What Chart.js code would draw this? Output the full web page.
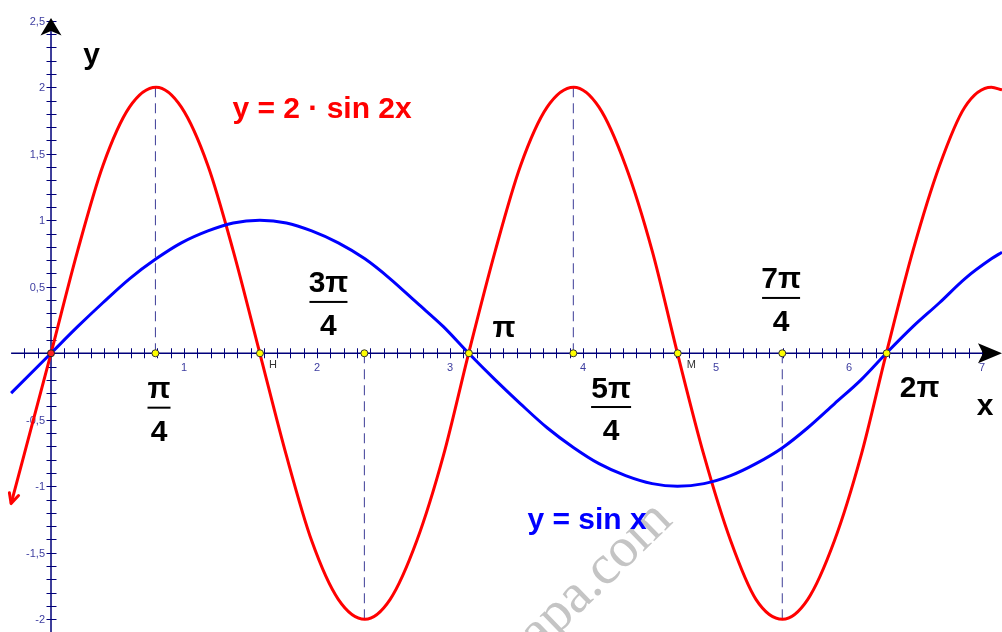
<!DOCTYPE html>
<html>
<head>
<meta charset="utf-8">
<script src="https://cdn.jsdelivr.net/npm/chart.js@4/dist/chart.umd.min.js"></script>
<style>
html, body { margin: 0; padding: 0; background: #fff; }
#graph { display: block; }
</style>
</head>
<body>
<canvas id="graph" width="1002" height="632"></canvas>
<script>
// curve samples (x in steps of about pi/16)
var xs = [-0.30, 0, 0.20, 0.39, 0.59, 0.79, 0.98, 1.18, 1.37, 1.57, 1.77, 1.96, 2.16, 2.36, 2.55, 2.75, 2.95,
          3.14, 3.34, 3.53, 3.73, 3.93, 4.12, 4.32, 4.52, 4.71, 4.91, 5.11, 5.30, 5.50, 5.69, 5.89, 6.09,
          6.28, 6.48, 6.68, 6.87, 7.07, 7.15];
var sinX = [-0.30, 0, 0.20, 0.38, 0.56, 0.71, 0.83, 0.92, 0.98, 1, 0.98, 0.92, 0.83, 0.71, 0.56, 0.38, 0.20,
            0, -0.20, -0.38, -0.56, -0.71, -0.83, -0.92, -0.98, -1, -0.98, -0.92, -0.83, -0.71, -0.56, -0.38, -0.20,
            0, 0.20, 0.38, 0.56, 0.71, 0.76];
var twoSin2X = [-1.13, 0, 0.77, 1.41, 1.85, 2, 1.85, 1.41, 0.77, 0, -0.77, -1.41, -1.85, -2, -1.85, -1.41, -0.77,
                0, 0.77, 1.41, 1.85, 2, 1.85, 1.41, 0.77, 0, -0.77, -1.41, -1.85, -2, -1.85, -1.41, -0.77,
                0, 0.77, 1.41, 1.85, 2, 1.98];

// marked points on the x axis and the dashed helper lines
var markX     = [0.785, 1.571, 2.356, 3.142, 3.927, 4.712, 5.498, 6.283];
var markNames = ['', 'H', '', '', '', 'M', '', ''];
var dashX     = [0.785, 2.356, 3.927, 5.498];
var dashY     = [2, -2, 2, -2];

// tick labels
var xTicks      = [1, 2, 3, 4, 5, 6, 7];
var xTickLabels = ['1', '2', '3', '4', '5', '6', '7'];
var yTicks      = [-2, -1.5, -1, -0.5, 0.5, 1, 1.5, 2, 2.5];
var yTickLabels = ['-2', '-1,5', '-1', '-0,5', '0,5', '1', '1,5', '2', '2,5'];

var AXIS = '#00007a';
var TICKTEXT = '#3d3da0';
var BIG = 'bold 30px "Liberation Sans", Arial, sans-serif';

//build datasets
var datasets = [];
datasets.push({
    data: [{x: 0, y: 0}],
    pointRadius: 3.5, pointBackgroundColor: '#ff2020', pointBorderColor: '#222',
    pointBorderWidth: 1, showLine: false
});
datasets.push({
    data: markX.map(function(x){ return {x: x, y: 0}; }),
    pointRadius: 3.5, pointBackgroundColor: '#ffff00', pointBorderColor: '#333',
    pointBorderWidth: 1, showLine: false
});
datasets.push({
    data: xs.map(function(x, i){ return {x: x, y: sinX[i]}; }),
    borderColor: '#0000ff', borderWidth: 3, pointRadius: 0,
    cubicInterpolationMode: 'monotone', fill: false
});
datasets.push({
    data: xs.map(function(x, i){ return {x: x, y: twoSin2X[i]}; }),
    borderColor: '#ff0000', borderWidth: 3, pointRadius: 0,
    cubicInterpolationMode: 'monotone', fill: false
});
for (var i = 0; i < dashX.length; i++) {
    datasets.push({
        data: [{x: dashX[i], y: 0}, {x: dashX[i], y: dashY[i]}],
        borderColor: '#3c3c96', borderWidth: 1, borderDash: [10, 6],
        pointRadius: 0, fill: false
    });
}

//axes, arrows and watermark under the curves
var axesPlugin = {
    id: 'axesPlugin',
    beforeDatasetsDraw: function(chart) {
        var ctx = chart.ctx, sx = chart.scales.x, sy = chart.scales.y;
        var ox = sx.getPixelForValue(0), oy = sy.getPixelForValue(0);
        ctx.save();

        // watermark
        ctx.save();
        ctx.translate(674, 522);
        ctx.rotate(-44 * Math.PI / 180);
        ctx.font = '56px "Liberation Serif", "Times New Roman", serif';
        ctx.fillStyle = '#c4c4c4';
        ctx.textAlign = 'right';
        ctx.fillText('kapa.com', 0, 0);
        ctx.restore();

        // axis lines
        ctx.strokeStyle = AXIS;
        ctx.lineWidth = 1.5;
        ctx.beginPath();
        ctx.moveTo(sx.getPixelForValue(-0.30), oy);
        ctx.lineTo(sx.right - 6, oy);
        ctx.moveTo(ox, sy.bottom);
        ctx.lineTo(ox, sy.getPixelForValue(2.5));
        ctx.stroke();

        // minor ticks every 0.1
        ctx.lineWidth = 1;
        ctx.beginPath();
        for (var k = -2; k <= 70; k++) {
            if (k === 0) continue;
            var px = Math.round(sx.getPixelForValue(k / 10)) + 0.5;
            ctx.moveTo(px, oy - 5);
            ctx.lineTo(px, oy + 5);
        }
        for (var k = -20; k <= 25; k++) {
            if (k === 0) continue;
            var py = Math.round(sy.getPixelForValue(k / 10)) + 0.5;
            ctx.moveTo(ox - 4.5, py);
            ctx.lineTo(ox + 5.5, py);
        }
        ctx.stroke();

        // tick labels
        ctx.font = '11px "Liberation Sans", Arial, sans-serif';
        ctx.fillStyle = TICKTEXT;
        ctx.textAlign = 'center';
        ctx.textBaseline = 'alphabetic';
        for (var i = 0; i < xTicks.length; i++) {
            ctx.fillText(xTickLabels[i], sx.getPixelForValue(xTicks[i]), oy + 18);
        }
        ctx.textAlign = 'right';
        ctx.textBaseline = 'middle';
        for (var i = 0; i < yTicks.length; i++) {
            ctx.fillText(yTickLabels[i], ox - 6, sy.getPixelForValue(yTicks[i]) + 1);
        }

        // arrow heads of the axes
        var ty = sy.getPixelForValue(2.52);
        ctx.fillStyle = '#000';
        ctx.beginPath();
        ctx.moveTo(ox, ty);
        ctx.lineTo(ox + 10.5, ty + 17.5);
        ctx.lineTo(ox, ty + 13);
        ctx.lineTo(ox - 10.5, ty + 17.5);
        ctx.closePath();
        ctx.fill();
        var tx = sx.right;
        ctx.beginPath();
        ctx.moveTo(tx, oy);
        ctx.lineTo(tx - 24, oy - 10);
        ctx.lineTo(tx - 19, oy);
        ctx.lineTo(tx - 24, oy + 10);
        ctx.closePath();
        ctx.fill();
        ctx.restore();
    },
    afterDatasetsDraw: function(chart) {
        var ctx = chart.ctx, sx = chart.scales.x, sy = chart.scales.y;
        var oy = sy.getPixelForValue(0);
        ctx.save();

        // open arrow at the left end of the red curve
        var p0x = sx.getPixelForValue(xs[0]), p0y = sy.getPixelForValue(twoSin2X[0]);
        var ang = Math.atan2(-3.3, 1);
        ctx.strokeStyle = '#ff0000';
        ctx.lineWidth = 3;
        ctx.lineCap = 'round';
        ctx.beginPath();
        for (var s = -1; s <= 1; s += 2) {
            var a = ang + s * 0.45;
            ctx.moveTo(p0x, p0y);
            ctx.lineTo(p0x + 11 * Math.cos(a), p0y + 11 * Math.sin(a));
        }
        ctx.stroke();

        // point names
        ctx.font = '11px "Liberation Sans", Arial, sans-serif';
        ctx.fillStyle = '#333';
        ctx.textAlign = 'left';
        for (var i = 0; i < markX.length; i++) {
            if (markNames[i]) ctx.fillText(markNames[i], sx.getPixelForValue(markX[i]) + 9, oy + 15);
        }

        // fractions
        ctx.font = BIG;
        ctx.fillStyle = '#000';
        ctx.textAlign = 'center';
        ctx.textBaseline = 'alphabetic';
        var fracs = [
            {num: 'π',  x: 0.812, y: -0.409, w: 11.5},
            {num: '3π', x: 2.086, y: 0.386,  w: 19},
            {num: '5π', x: 4.211, y: -0.404, w: 20},
            {num: '7π', x: 5.489, y: 0.416,  w: 19}
        ];
        fracs.forEach(function(f){
            var cx = sx.getPixelForValue(f.x), ly = sy.getPixelForValue(f.y);
            ctx.fillText(f.num, cx, ly - 9.5);
            ctx.fillRect(cx - f.w, ly - 1, 2 * f.w, 2);
            ctx.fillText('4', cx, ly + 33);
        });
        var texts = [
            {t: 'π',  x: 3.406, y: 0.123,  c: '#000'},
            {t: '2π', x: 6.530, y: -0.329, c: '#000'},
            {t: 'x',  x: 7.023, y: -0.464, c: '#000'},
            {t: 'y',  x: 0.305, y: 2.175,  c: '#000'},
            {t: 'y = 2 · sin 2x', x: 2.038, y: 1.769, c: '#ff0000'},
            {t: 'y = sin x', x: 4.030, y: -1.322, c: '#0000ff'}
        ];
        texts.forEach(function(t){
            ctx.fillStyle = t.c;
            ctx.fillText(t.t, sx.getPixelForValue(t.x), sy.getPixelForValue(t.y));
        });
        ctx.restore();
    }
};

var graph = new Chart(document.getElementById('graph'), {
    type: 'line',
    data: { datasets: datasets },
    options: {
        responsive: false,
        animation: false,
        devicePixelRatio: 1,
        layout: { padding: 0, autoPadding: false },
        plugins: { legend: { display: false }, tooltip: { enabled: false } },
        scales: {
            x: { type: 'linear', min: -0.3835, max: 7.150, display: false },
            y: { type: 'linear', min: -2.0955, max: 2.656, display: false }
        }
    },
    plugins: [axesPlugin]
});
</script>
</body>
</html>
